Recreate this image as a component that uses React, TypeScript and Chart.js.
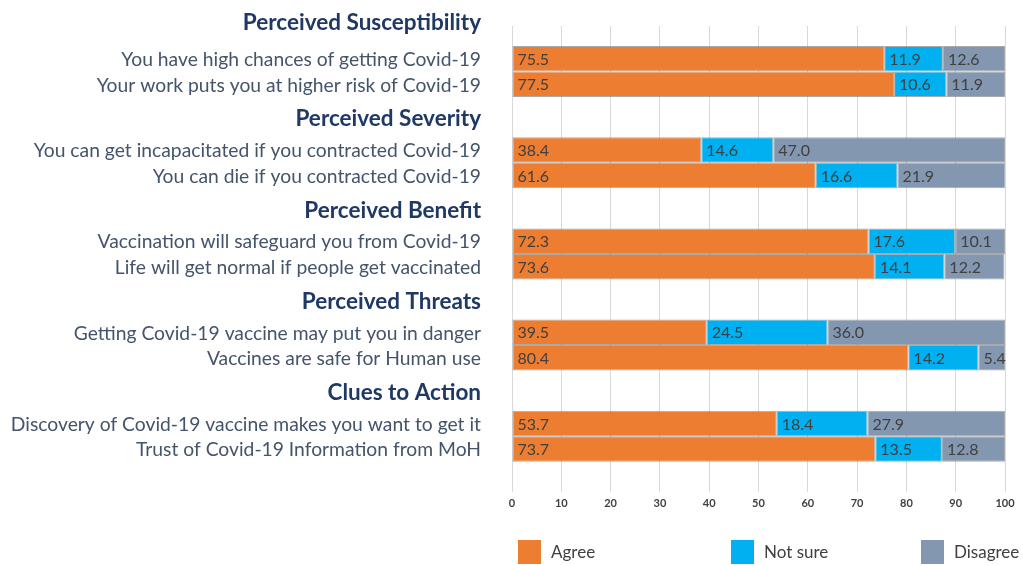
import React, { useEffect, useRef } from 'react';
import { Chart, registerables } from 'chart.js';

Chart.register(...registerables);

const groupHeadings = [
  'Perceived Susceptibility',
  'Perceived Severity',
  'Perceived Benefit',
  'Perceived Threats',
  'Clues to Action',
];
const firstItems = [
  'You have high chances of getting Covid-19',
  'You can get incapacitated if you contracted Covid-19',
  'Vaccination will safeguard you from Covid-19',
  'Getting Covid-19 vaccine may put you in danger',
  'Discovery of Covid-19 vaccine makes you want to get it',
];
const secondItems = [
  'Your work puts you at higher risk of Covid-19',
  'You can die if you contracted Covid-19',
  'Life will get normal if people get vaccinated',
  'Vaccines are safe for Human use',
  'Trust of Covid-19 Information from MoH',
];
const agreeFirst = [75.5, 38.4, 72.3, 39.5, 53.7];
const notSureFirst = [11.9, 14.6, 17.6, 24.5, 18.4];
const disagreeFirst = [12.6, 47.0, 10.1, 36.0, 27.9];
const agreeSecond = [77.5, 61.6, 73.6, 80.4, 73.7];
const notSureSecond = [10.6, 16.6, 14.1, 14.2, 13.5];
const disagreeSecond = [11.9, 21.9, 12.2, 5.4, 12.8];
const seriesNames = ['Agree', 'Not sure', 'Disagree'];
const seriesColors = ['#ED7D31', '#00B0F0', '#8497B0'];
const xMin = 0;
const xMax = 100;
const xStep = 10;

const FONT = 'Lato, "Open Sans", sans-serif';

const sideLabels = {
  id: 'sideLabels',
  afterDraw(chart: any) {
    const ctx = chart.ctx;
    const m1 = chart.getDatasetMeta(0);
    const m2 = chart.getDatasetMeta(3);
    const x = chart.chartArea.left - 31;
    ctx.save();
    ctx.textAlign = 'right';
    ctx.textBaseline = 'middle';
    groupHeadings.forEach((h, i) => {
      const b1 = m1.data[i];
      const b2 = m2.data[i];
      ctx.font = `19.3px ${FONT}`;
      ctx.fillStyle = '#44546A';
      ctx.fillText(firstItems[i], x, b1.y + 1);
      ctx.fillText(secondItems[i], x, b2.y + 1);
      ctx.font = `bold 22.5px ${FONT}`;
      ctx.fillStyle = '#1F3864';
      ctx.fillText(h, x, b1.y - b1.height / 2 - (i === 0 ? 23 : 18));
    });
    ctx.restore();
  },
};

const valueLabels = {
  id: 'valueLabels',
  afterDatasetsDraw(chart: any) {
    const ctx = chart.ctx;
    ctx.save();
    ctx.font = `16px ${FONT}`;
    ctx.fillStyle = '#404040';
    ctx.textAlign = 'left';
    ctx.textBaseline = 'middle';
    chart.data.datasets.forEach((ds: any, di: number) => {
      const meta = chart.getDatasetMeta(di);
      meta.data.forEach((bar: any, i: number) => {
        const v = ds.data[i];
        const left = Math.min(bar.base, bar.x);
        ctx.fillText(v.toFixed(1), left + 5, bar.y + 1);
      });
    });
    ctx.restore();
  },
};

const customLegend = {
  id: 'customLegend',
  afterDraw(chart: any) {
    const ctx = chart.ctx;
    const offsets = [6, 219, 409];
    const top = 540;
    ctx.save();
    ctx.font = `17px ${FONT}`;
    ctx.textAlign = 'left';
    ctx.textBaseline = 'middle';
    seriesNames.forEach((name, i) => {
      const x = chart.chartArea.left + offsets[i];
      ctx.fillStyle = seriesColors[i];
      ctx.fillRect(x, top, 23, 24);
      ctx.fillStyle = '#404040';
      ctx.fillText(name, x + 33, top + 13);
    });
    ctx.restore();
  },
};

export default function App() {
  const ref = useRef<HTMLCanvasElement>(null);

  useEffect(() => {
    document.body.style.margin = '0';
    const canvas = ref.current;
    if (!canvas) return;
    const mk = (data: number[], si: number, stack: string) => ({
      label: seriesNames[si],
      data,
      stack,
      backgroundColor: seriesColors[si],
      borderColor: 'rgba(100,100,100,0.55)',
      borderWidth: 1,
      borderSkipped: false,
      barPercentage: 1,
      categoryPercentage: 0.56,
    });
    const chart = new Chart(canvas, {
      type: 'bar',
      data: {
        labels: groupHeadings,
        datasets: [
          mk(agreeFirst, 0, 'first'),
          mk(notSureFirst, 1, 'first'),
          mk(disagreeFirst, 2, 'first'),
          mk(agreeSecond, 0, 'second'),
          mk(notSureSecond, 1, 'second'),
          mk(disagreeSecond, 2, 'second'),
        ] as any,
      },
      options: {
        indexAxis: 'y',
        responsive: false,
        animation: false,
        layout: { padding: { left: 512, right: 18, top: 26, bottom: 50 } },
        plugins: {
          legend: { display: false },
          tooltip: { enabled: false },
        },
        scales: {
          x: {
            stacked: true,
            min: xMin,
            max: xMax,
            border: { display: false },
            grid: { color: '#d9d9d9', lineWidth: 1, drawTicks: true, tickLength: 10 },
            ticks: {
              stepSize: xStep,
              padding: 5,
              color: '#404040',
              font: { family: FONT, size: 11, weight: 'bold' },
            },
          },
          y: {
            stacked: true,
            display: false,
            grid: { display: false },
          },
        },
      },
      plugins: [valueLabels, sideLabels, customLegend],
    });
    return () => chart.destroy();
  }, []);

  return (
    <div style={{ width: 1023, height: 565, background: '#fff' }}>
      <canvas ref={ref} width={1023} height={565} style={{ display: 'block' }} />
    </div>
  );
}
